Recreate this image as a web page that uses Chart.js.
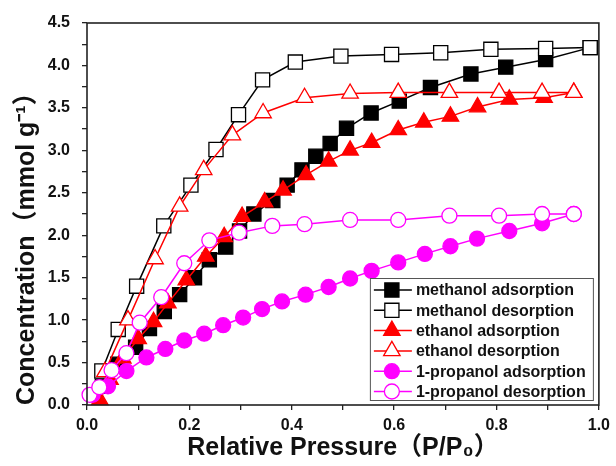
<!DOCTYPE html>
<html>
<head>
<meta charset="utf-8">
<script src="https://cdn.jsdelivr.net/npm/chart.js@4.4.1/dist/chart.umd.min.js"></script>
<style>
  html, body { margin: 0; background: #fff; }
  #wrap { width: 616px; height: 466px; }
</style>
</head>
<body>
<div id="wrap"><canvas id="chart" width="616" height="466"></canvas></div>
<script>
// isotherm readings, relative pressure vs mmol/g
const methanolAdsP = [0.03, 0.06, 0.095, 0.122, 0.151, 0.181, 0.210, 0.239, 0.271, 0.298, 0.326, 0.363, 0.391, 0.420, 0.447, 0.475, 0.507, 0.555, 0.610, 0.671, 0.750, 0.818, 0.896, 0.983];
const methanolAdsV = [0.22, 0.48, 0.68, 0.90, 1.10, 1.30, 1.50, 1.71, 1.86, 2.05, 2.25, 2.41, 2.59, 2.77, 2.93, 3.08, 3.26, 3.44, 3.58, 3.74, 3.90, 3.98, 4.07, 4.21];
const methanolDesP = [0.029, 0.061, 0.097, 0.150, 0.203, 0.252, 0.296, 0.343, 0.407, 0.496, 0.595, 0.691, 0.789, 0.896, 0.983];
const methanolDesV = [0.40, 0.89, 1.40, 2.11, 2.59, 3.01, 3.42, 3.83, 4.04, 4.11, 4.13, 4.15, 4.19, 4.20, 4.21];
const ethanolAdsP = [0.025, 0.045, 0.07, 0.10, 0.13, 0.158, 0.194, 0.232, 0.268, 0.303, 0.347, 0.383, 0.428, 0.472, 0.514, 0.556, 0.608, 0.658, 0.710, 0.763, 0.825, 0.893, 0.951];
const ethanolAdsV = [0.06, 0.30, 0.55, 0.78, 0.98, 1.20, 1.47, 1.75, 1.98, 2.22, 2.39, 2.53, 2.71, 2.87, 3.00, 3.09, 3.24, 3.33, 3.40, 3.51, 3.60, 3.62, 3.68];
const ethanolDesP = [0.035, 0.08, 0.133, 0.181, 0.228, 0.284, 0.344, 0.425, 0.514, 0.608, 0.708, 0.805, 0.889, 0.951];
const ethanolDesV = [0.39, 1.00, 1.72, 2.34, 2.77, 3.18, 3.44, 3.62, 3.67, 3.68, 3.68, 3.68, 3.68, 3.68];
const propanolAdsP = [0.011, 0.041, 0.077, 0.116, 0.153, 0.190, 0.229, 0.266, 0.305, 0.342, 0.381, 0.427, 0.472, 0.514, 0.556, 0.608, 0.660, 0.710, 0.762, 0.825, 0.889, 0.951];
const propanolAdsV = [0.12, 0.22, 0.40, 0.56, 0.66, 0.76, 0.84, 0.94, 1.03, 1.13, 1.22, 1.30, 1.39, 1.49, 1.58, 1.68, 1.78, 1.87, 1.96, 2.05, 2.14, 2.25];
const propanolDesP = [0.005, 0.024, 0.048, 0.077, 0.103, 0.145, 0.190, 0.239, 0.297, 0.362, 0.425, 0.514, 0.608, 0.708, 0.805, 0.889, 0.951];
const propanolDesV = [0.12, 0.21, 0.41, 0.61, 0.97, 1.27, 1.67, 1.94, 2.03, 2.11, 2.13, 2.18, 2.18, 2.23, 2.23, 2.25, 2.25];

const seriesLabels = ['methanol adsorption', 'methanol desorption', 'ethanol adsorption', 'ethanol desorption', '1-propanol adsorption', '1-propanol desorption'];
const xTitle = 'Relative Pressure（P/P₀）';
const yTitle = 'Concentration（mmol g⁻¹）';

const font = "'Liberation Sans', Arial, 'Noto Sans CJK SC', sans-serif";
const colors = { black: '#000000', red: '#ff0000', magenta: '#ff00ff' };

function points(xs, ys) {
  return xs.map((x, i) => ({ x, y: ys[i] }));
}

function series(index, xs, ys, color, style, filled, radius) {
  return {
    label: seriesLabels[index],
    data: points(xs, ys),
    showLine: true,
    borderColor: color,
    borderWidth: 1.5,
    pointStyle: style,
    pointRadius: radius,
    pointHoverRadius: radius,
    pointBackgroundColor: filled ? color : '#ffffff',
    pointBorderColor: color,
    pointBorderWidth: 1.3,
    clip: false,
    order: 10 - index,
  };
}

const datasets = [
  series(0, methanolAdsP, methanolAdsV, colors.black, 'rect', true, 10),
  series(1, methanolDesP, methanolDesV, colors.black, 'rect', false, 10),
  series(2, ethanolAdsP, ethanolAdsV, colors.red, 'triangle', true, 9.5),
  series(3, ethanolDesP, ethanolDesV, colors.red, 'triangle', false, 9.5),
  series(4, propanolAdsP, propanolAdsV, colors.magenta, 'circle', true, 7.5),
  series(5, propanolDesP, propanolDesV, colors.magenta, 'circle', false, 7.5),
];

// frame around the plot + boxed legend in the lower right
const frame = {
  id: 'frame',
  afterDatasetsDraw(chart) {
    const { ctx, chartArea: a } = chart;
    ctx.save();
    ctx.strokeStyle = '#222';
    ctx.lineWidth = 1.6;
    ctx.strokeRect(a.left, a.top, a.right - a.left, a.bottom - a.top);
    ctx.restore();
  },
};

const boxLegend = {
  id: 'boxLegend',
  afterDraw(chart) {
    const { ctx, chartArea: a } = chart;
    const w = 223, rowH = 20.3, h = 122;
    const left = a.right - w - 6, top = a.bottom - h - 5;
    ctx.save();
    ctx.fillStyle = '#fff';
    ctx.fillRect(left, top, w, h);
    ctx.strokeStyle = '#555';
    ctx.lineWidth = 1;
    ctx.strokeRect(left + 0.5, top + 0.5, w, h);
    ctx.font = `bold 16px ${font}`;
    ctx.textBaseline = 'middle';
    chart.data.datasets.forEach((ds, i) => {
      const y = top + 12 + i * rowH;
      ctx.strokeStyle = ds.borderColor;
      ctx.lineWidth = ds.borderWidth;
      ctx.beginPath();
      ctx.moveTo(left + 4, y);
      ctx.lineTo(left + 42, y);
      ctx.stroke();
      ctx.fillStyle = ds.pointBackgroundColor;
      ctx.strokeStyle = ds.pointBorderColor;
      ctx.lineWidth = ds.pointBorderWidth;
      Chart.helpers.drawPoint(ctx, { pointStyle: ds.pointStyle, radius: ds.pointRadius, rotation: 0, borderWidth: ds.pointBorderWidth }, left + 22, y);
      ctx.fillStyle = '#111';
      ctx.fillText(ds.label, left + 46, y + 1);
    });
    ctx.restore();
  },
};

new Chart(document.getElementById('chart'), {
  type: 'scatter',
  data: { datasets },
  plugins: [frame, boxLegend],
  options: {
    responsive: false,
    animation: false,
    events: [],
    layout: { padding: { top: 23, right: 14, left: 0, bottom: 0 } },
    plugins: { legend: { display: false }, tooltip: { enabled: false } },
    scales: {
      x: {
        type: 'linear', min: 0, max: 1,
        afterFit: (scale) => { scale.height = 61; },
        border: { display: false },
        grid: { display: true, drawOnChartArea: false, tickLength: 5, color: '#222', lineWidth: 1.3 },
        ticks: {
          stepSize: 0.1, padding: 6, color: '#111', maxRotation: 0, autoSkip: false,
          font: { family: font, size: 16, weight: 'bold' },
          callback: (v) => (Math.round(v * 10) % 2 === 0 ? v.toFixed(1) : ''),
        },
        title: { display: true, text: xTitle, color: '#111', padding: { top: 2, bottom: 3 }, font: { family: font, size: 25, weight: 'bold' } },
      },
      y: {
        type: 'linear', min: 0, max: 4.5,
        afterFit: (scale) => { scale.width = 87; },
        border: { display: false },
        grid: { display: true, drawOnChartArea: false, tickLength: 5, color: '#222', lineWidth: 1.3 },
        ticks: {
          stepSize: 0.25, padding: 12, color: '#111', autoSkip: false,
          font: { family: font, size: 16, weight: 'bold' },
          callback: (v) => (Math.round(v * 4) % 2 === 0 ? v.toFixed(1) : ''),
        },
        title: { display: true, text: yTitle, align: 'start', color: '#111', padding: { top: 12, bottom: 0 }, font: { family: font, size: 25, weight: 'bold' } },
      },
    },
  },
});
</script>
</body>
</html>
